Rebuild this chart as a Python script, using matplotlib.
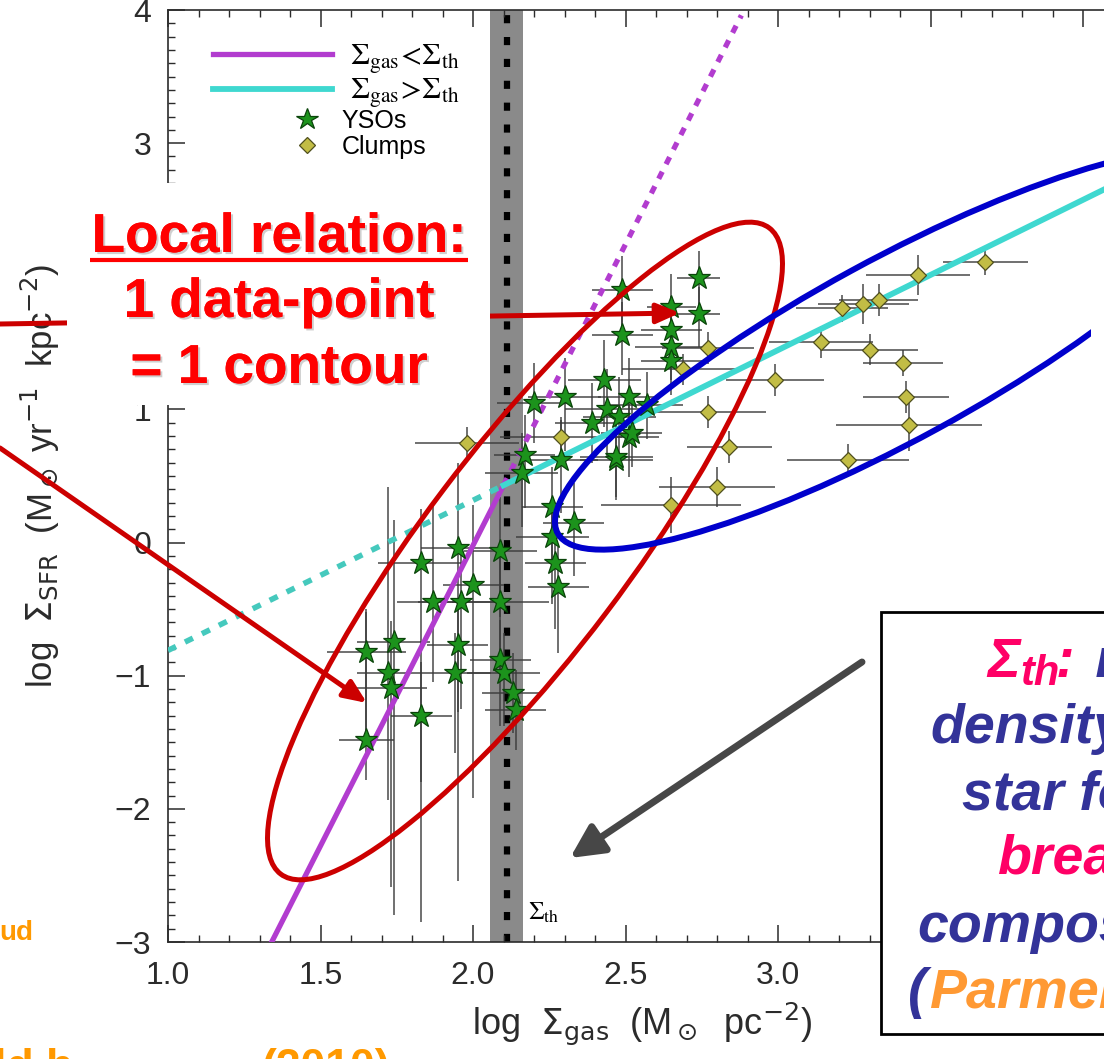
import numpy as np
import matplotlib.pyplot as plt
import matplotlib.patheffects as pe
from matplotlib.patches import Ellipse, Rectangle
from matplotlib.font_manager import FontProperties
from matplotlib.ticker import MultipleLocator, FormatStrFormatter

plt.rcParams['font.family'] = ['Liberation Sans', 'DejaVu Sans']

# YSOs: log Sigma_gas, log Sigma_SFR and their error bars
yso_x = [1.65, 1.65, 1.74, 1.72, 1.73, 1.83, 1.83, 1.87, 1.95, 2.00, 1.96, 1.95,
         1.94, 2.09, 2.09, 2.09, 2.10, 2.13, 2.14, 2.26, 2.26, 2.27, 2.28, 2.20,
         2.30, 2.17, 2.29, 2.16, 2.33, 2.43, 2.44, 2.51, 2.48, 2.51, 2.39, 2.47,
         2.49, 2.49, 2.74, 2.74, 2.65, 2.65, 2.65, 2.65, 2.57, 2.52, 2.47]
yso_y = [-1.48, -0.82, -0.75, -0.98, -1.09, -1.30, -0.15, -0.45, -0.04, -0.32, -0.45, -0.77,
         -0.98, -0.06, -0.45, -0.88, -0.98, -1.13, -1.26, 0.27, 0.04, -0.15, -0.33, 1.05,
         1.09, 0.66, 0.62, 0.52, 0.15, 1.22, 1.00, 1.09, 0.94, 0.79, 0.90, 0.62,
         1.90, 1.56, 1.99, 1.72, 1.77, 1.60, 1.47, 1.36, 1.03, 0.82, 0.64]
yso_xerr = [0.09, 0.13, 0.12, 0.10, 0.12, 0.10, 0.14, 0.12, 0.12, 0.10, 0.14, 0.10,
            0.12, 0.12, 0.16, 0.10, 0.12, 0.10, 0.10, 0.10, 0.12, 0.10, 0.10, 0.12,
            0.12, 0.10, 0.12, 0.12, 0.10, 0.12, 0.14, 0.10, 0.12, 0.10, 0.12, 0.12,
            0.10, 0.10, 0.07, 0.07, 0.08, 0.10, 0.12, 0.10, 0.12, 0.10, 0.12]
yso_yerr_lo = [0.30, 0.60, 2.05, 0.95, 1.50, 0.50, 2.70, 0.60, 2.50, 1.60, 0.80, 0.50,
               0.60, 0.50, 0.60, 0.50, 0.40, 0.30, 0.30, 0.40, 0.50, 0.50, 0.50, 0.30,
               0.40, 0.40, 0.40, 0.40, 0.40, 0.35, 0.35, 0.30, 0.30, 0.30, 0.30, 0.30,
               0.30, 0.30, 0.25, 0.25, 0.25, 0.25, 0.25, 0.25, 0.25, 0.25, 0.30]
yso_yerr_hi = [0.98, 0.30, 0.92, 1.40, 0.50, 0.40, 0.40, 0.75, 0.64, 0.60, 0.40, 0.30,
               0.30, 0.40, 0.40, 0.30, 0.30, 0.30, 0.30, 0.30, 0.30, 0.30, 0.30, 0.30,
               0.30, 0.30, 0.30, 0.30, 0.30, 0.30, 0.30, 0.30, 0.30, 0.25, 0.30, 0.30,
               0.25, 0.25, 0.20, 0.20, 0.25, 0.25, 0.25, 0.25, 0.25, 0.25, 0.30]

# clumps
clump_x = [3.68, 3.46, 3.21, 3.28, 3.33, 3.14, 3.30, 3.41, 2.99, 3.42,
           3.43, 3.23, 2.77, 2.84, 2.80, 2.65, 2.69, 2.77, 2.29, 1.98]
clump_y = [2.11, 2.01, 1.76, 1.79, 1.82, 1.51, 1.45, 1.35, 1.22, 1.09,
           0.88, 0.62, 0.98, 0.72, 0.42, 0.28, 1.30, 1.46, 0.79, 0.75]
clump_xerr = [0.14, 0.17, 0.15, 0.15, 0.13, 0.17, 0.16, 0.13, 0.16, 0.14,
              0.24, 0.20, 0.19, 0.14, 0.19, 0.23, 0.20, 0.15, 0.20, 0.17]
clump_yerr = [0.10, 0.15, 0.10, 0.15, 0.12, 0.12, 0.12, 0.10, 0.12, 0.12,
              0.19, 0.12, 0.12, 0.12, 0.15, 0.21, 0.12, 0.12, 0.15, 0.12]

# broken power law (below / above the threshold)
sigma_th = 2.11
sigma_th_band = (2.055, 2.165)
below_solid_x, below_solid_y = [1.34, 2.10], [-3.0, 0.43]
below_dot_x, below_dot_y = [2.10, 2.88], [0.43, 3.96]
above_solid_x, above_solid_y = [2.10, 4.20], [0.43, 2.80]
above_dot_x, above_dot_y = [1.00, 2.10], [-0.81, 0.43]

W, H = 1104, 1059
fig = plt.figure(figsize=(W / 100, H / 100), dpi=100)
ax = fig.add_axes([168 / W, 1 - 942 / H, 976 / W, 932 / H])
ax.set_xlim(1.0, 4.2)
ax.set_ylim(-3, 4)

mag = '#b23ccf'
cya = '#3fd8d0'
ink = '#2b2b2b'

ax.axvspan(*sigma_th_band, color='#8a8a8a', lw=0, zorder=1)
ax.axvline(sigma_th, color='k', lw=4.5, ls=(0, (1.3, 2.2)), zorder=1.5)

ax.errorbar(yso_x, yso_y, xerr=yso_xerr, yerr=[yso_yerr_lo, yso_yerr_hi], fmt='none',
            ecolor='#3a3a3a', elinewidth=1.2, capsize=0, alpha=0.85, zorder=2)
ax.errorbar(clump_x, clump_y, xerr=clump_xerr, yerr=clump_yerr, fmt='none',
            ecolor='#3a3a3a', elinewidth=1.2, capsize=0, alpha=0.85, zorder=2)

l_below, = ax.plot(below_solid_x, below_solid_y, color=mag, lw=3.8, zorder=3,
                   label=r'$\Sigma_{\rm gas}\!<\!\Sigma_{\rm th}$')
ax.plot(below_dot_x, below_dot_y, color=mag, lw=3.8, ls=(0, (1.5, 1.6)), zorder=3)
l_above, = ax.plot(above_solid_x, above_solid_y, color=cya, lw=4.2, zorder=3,
                   label=r'$\Sigma_{\rm gas}\!>\!\Sigma_{\rm th}$')
ax.plot(above_dot_x, above_dot_y, color='#45c9bd', lw=4, ls=(0, (1.6, 1.8)), zorder=3)

m_yso, = ax.plot(yso_x, yso_y, ls='none', marker='*', ms=17, mfc='#1c931c',
                 mec='#0a440a', mew=0.9, zorder=4, label='YSOs')
m_clump, = ax.plot(clump_x, clump_y, ls='none', marker='D', ms=8.5, mfc='#c2bd45',
                   mec='#4f4f1e', mew=0.9, zorder=4, label='Clumps')

ax.text(2.18, -2.78, r'$\Sigma_{\rm th}$', fontsize=18, color='k',
        math_fontfamily='stix', va='center')

ax.xaxis.set_major_locator(MultipleLocator(0.5))
ax.xaxis.set_minor_locator(MultipleLocator(0.1))
ax.yaxis.set_major_locator(MultipleLocator(1))
ax.yaxis.set_minor_locator(MultipleLocator(0.1))
ax.xaxis.set_major_formatter(FormatStrFormatter('%.1f'))
ax.tick_params(which='both', direction='in', top=True, right=True, colors=ink,
               labelcolor=ink, labelsize=23)
ax.tick_params(which='major', length=12, width=1.1)
ax.tick_params(which='minor', length=5, width=1.0)
ax.tick_params(axis='x', pad=14)
ax.tick_params(axis='y', pad=12)
for s in ax.spines.values():
    s.set_color(ink)
    s.set_linewidth(1.2)

ax.set_xlabel(r'log  $\Sigma_{\rm gas}$  (M$_\odot$  pc$^{-2}$)', fontsize=26, color=ink)
ax.set_ylabel(r'log  $\Sigma_{\rm SFR}$  (M$_\odot$ yr$^{-1}$  kpc$^{-2}$)', fontsize=25,
              color=ink)
ax.xaxis.label.set_va('center')
ax.yaxis.label.set_va('center')
ax.xaxis.set_label_coords((642 - 168) / 976, -(1024 - 942) / 932)
ax.yaxis.set_label_coords(-(168 - 40) / 976, 0.5)

leg1 = ax.legend(handles=[l_below, l_above], loc='upper left',
                 bbox_to_anchor=(213 / W, 1 - 42 / H), bbox_transform=fig.transFigure,
                 frameon=False, borderpad=0, borderaxespad=0, handlelength=3.9,
                 handletextpad=0.6, labelspacing=0.0,
                 prop=FontProperties(size=22, math_fontfamily='stix'))
ax.add_artist(leg1)
ax.legend(handles=[m_yso, m_clump], loc='upper left',
          bbox_to_anchor=(294 / W, 1 - 109 / H), bbox_transform=fig.transFigure,
          frameon=False, borderpad=0, borderaxespad=0, handlelength=1.0,
          handletextpad=0.9, labelspacing=0.08, markerscale=0.95, fontsize=18)

# slide annotations drawn on top, in pixel coordinates
ov = fig.add_axes([0, 0, 1, 1], zorder=5)
ov.set_xlim(0, W)
ov.set_ylim(H, 0)
ov.axis('off')

red = '#cc0000'
arrow_red = dict(arrowstyle='-|>,head_length=1.4,head_width=0.6', lw=3.6, color=red,
                 shrinkA=0, shrinkB=0)
ov.annotate('', xy=(680, 313), xytext=(0, 324), arrowprops=arrow_red)
ov.annotate('', xy=(367, 703), xytext=(0, 448), arrowprops=arrow_red)

ov.add_patch(Ellipse((525, 551), 810, 204, angle=-52.9, fill=False, ec=red, lw=3.6))
ov.add_patch(Ellipse((894, 350), 766, 180, angle=-28.6, fill=False, ec='#0000cc', lw=4.3))

ov.add_patch(Rectangle((67, 183), 423, 222, fc='white', ec='none', zorder=3))
shadow = [pe.withSimplePatchShadow(offset=(1.5, -1.5), shadow_rgbFace='#b0b0b0', alpha=0.6),
          pe.Normal()]
for txt, yb in [('Local relation:', 252), ('1 data-point', 317), ('= 1 contour', 383)]:
    ov.text(279, yb, txt, fontsize=39.5, fontweight='bold', color='#ff0000',
            ha='center', va='baseline', zorder=4, path_effects=shadow)
ov.plot([90, 468], [260, 260], color='#ff0000', lw=3, zorder=4, solid_capstyle='butt')

ov.annotate('', xy=(570, 858), xytext=(862, 662),
            arrowprops=dict(arrowstyle='-|>,head_length=2.0,head_width=1.0', lw=5,
                            color='#474747', shrinkA=0, shrinkB=0))

ov.add_patch(Rectangle((1091, 203), 20, 409, fc='white', ec='none', zorder=3))

ov.add_patch(Rectangle((881, 612), 240, 422, fc='white', ec='k', lw=2, zorder=3))
pink, navy, orange = '#ff0066', '#333399', '#ff9933'
bi = dict(fontweight='bold', fontstyle='italic', va='baseline', ha='left', zorder=4)
ov.text(987, 677, 'Σ', fontsize=40, color=pink, **bi)
ov.text(1020, 685, 'th', fontsize=30, color=pink, **bi)
ov.text(1056, 677, ':', fontsize=40, color=pink, **bi)
ov.text(1080, 677, ' r', fontsize=40, color=navy, **bi)
ov.text(930, 743, 'density', fontsize=40, color=navy, **bi)
ov.text(962, 810, 'star for', fontsize=40, color=navy, **bi)
ov.text(997, 873, 'break', fontsize=40, color=pink, **bi)
ov.text(917, 942, 'composi', fontsize=40, color=navy, **bi)
ov.text(908, 1007, '(', fontsize=40, color=navy, **bi)
ov.text(929, 1007, 'Parmenti', fontsize=40, color=orange, **bi)

ov.text(33, 940, 'ud', fontsize=20, fontweight='bold', color='#ff9900', ha='right',
        va='baseline')
ov.text(-6, 1080, 'ld b', fontsize=32, fontweight='bold', color='#ff9900',
        ha='left', va='baseline')
ov.text(390, 1080, '(2010)', fontsize=32, fontweight='bold', color='#ff9900',
        ha='right', va='baseline')

fig.savefig('out.png', dpi=100)
